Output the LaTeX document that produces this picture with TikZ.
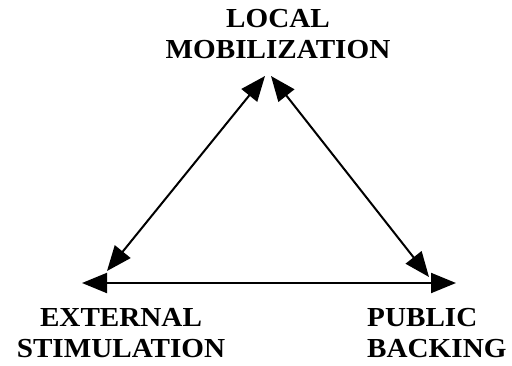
\documentclass[tikz,border=0pt]{standalone}
\usepackage{fontspec}
\setmainfont[FakeStretch=1.06]{Liberation Serif}
\usetikzlibrary{arrows.meta}
\tikzset{
  lbl/.style={font=\bfseries\fontsize{27.5}{31}\selectfont, align=center, inner sep=0pt},
  dbl/.style={line width=2pt, {Triangle[length=25pt,width=20pt]}-{Triangle[length=25pt,width=20pt]}}
}
\begin{document}
\begin{tikzpicture}[x=1pt,y=-1pt]
\useasboundingbox (0,0) rectangle (512,365);
\node[lbl] (local) at (278,34) {LOCAL\\MOBILIZATION};
\node[lbl] (ext) at (121,333) {EXTERNAL\\STIMULATION};
\node[lbl, align=left, anchor=west] (pub) at (367,333) {PUBLIC\\BACKING};
\coordinate (tl) at (265,76);
\coordinate (tr) at (271,76);
\coordinate (bl) at (107,271);
\coordinate (hl) at (82,283);
\coordinate (br) at (429,277);
\coordinate (hr) at (456,283);
\draw[dbl] (bl) -- (tl);
\draw[dbl] (tr) -- (br);
\draw[dbl] (hl) -- (hr);
\end{tikzpicture}
\end{document}
